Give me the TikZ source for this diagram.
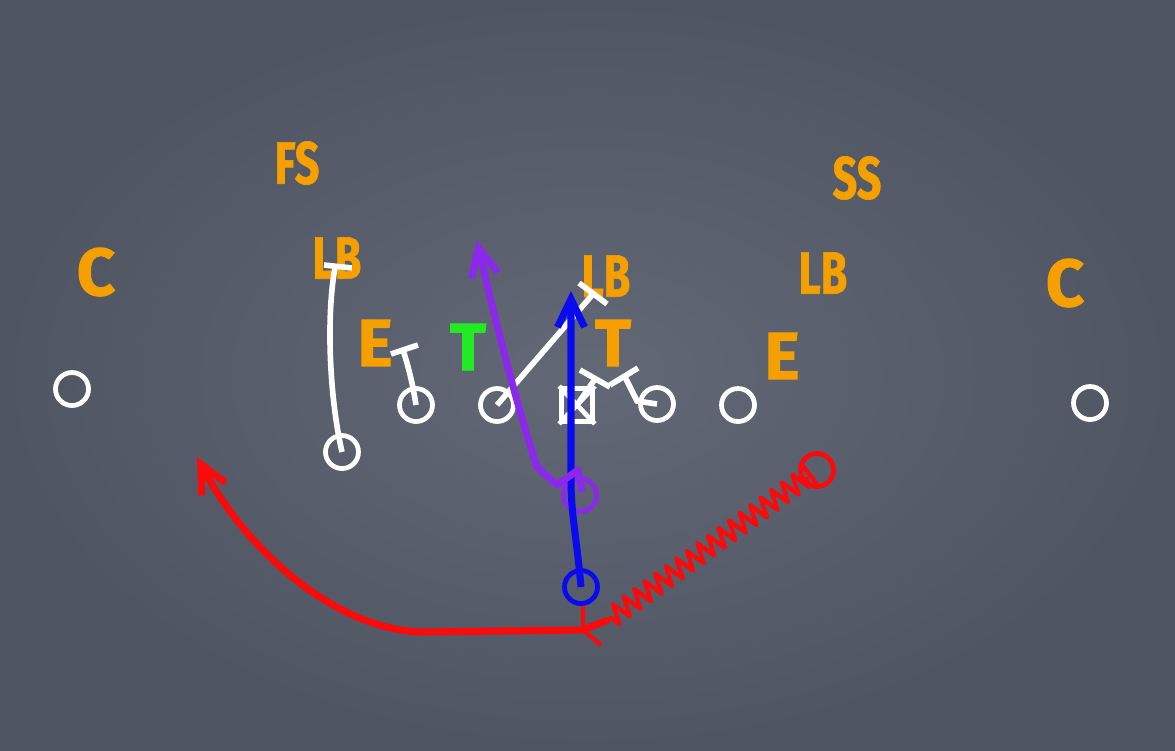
\documentclass[tikz,border=0pt]{standalone}
\usepackage{fontspec}
\setmainfont{Fira Sans}
\newfontfamily\narrowfont{Fira Sans}[FakeStretch=0.72, FakeBold=1]
\newfontfamily\heavyfont{Fira Sans}[FakeBold=1.5]
\usetikzlibrary{arrows.meta,decorations.pathmorphing}
\definecolor{boardin}{RGB}{98,104,118}
\definecolor{boardout}{RGB}{80,85,98}
\definecolor{chalkorange}{RGB}{246,160,0}
\definecolor{chalkgreen}{RGB}{35,235,35}
\definecolor{qbpurple}{RGB}{140,40,235}
\definecolor{rbblue}{RGB}{10,10,240}
\definecolor{motionred}{RGB}{250,10,10}

\begin{document}
\begin{tikzpicture}[x=0.01cm, y=-0.01cm,
  player/.style={circle, draw=white, line width=1.35pt, minimum size=0.33cm, inner sep=0pt},
  defender/.style={text=chalkorange, font=\narrowfont\bfseries\fontsize{17}{17}\selectfont},
  lineman/.style={text=chalkorange, font=\heavyfont\bfseries\fontsize{19}{19}\selectfont},
  block/.style={white, line width=1.6pt},
  route/.style={line width=2pt, -{Straight Barb[length=0.28cm, width=0.27cm]}}]
\shade[inner color=boardin, outer color=boardout] (0,0) rectangle (1175,750);

\node[defender] (fs) at (297,163) {FS};
\node[defender] (ss) at (857,178) {SS};
\node[defender] (lbl) at (337,258) {LB};
\node[defender] (lbm) at (606,276) {LB};
\node[defender] (lbr) at (823,273) {LB};
\node[lineman] (cbl) at (96,272) {C};
\node[lineman] (cbr) at (1065,283) {C};
\node[lineman] (del) at (375,343) {E};
\node[lineman] (der) at (782,356) {E};
\node[lineman, text=chalkgreen] (dtl) at (468,347) {T};
\node[lineman] (dtr) at (613,343) {T};

\node[player] (wrl) at (72,389) {};
\node[player] (wing) at (342,452) {};
\node[player] (tackl) at (416,405) {};
\node[player] (guardl) at (497,405) {};
\node[draw=white, line width=1.35pt, minimum width=0.31cm, minimum height=0.33cm, inner sep=0pt] (ctr) at (577,405) {};
\draw[white, line width=1.35pt] (ctr.north west) -- (ctr.south east) (ctr.north east) -- (ctr.south west);
\node[player] (guardr) at (657,404) {};
\node[player] (tackr) at (738,405) {};
\node[player] (wrr) at (1090,403) {};
\node[player, draw=qbpurple] (qb) at (580,495) {};
\node[player, draw=rbblue] (rb) at (581,587) {};
\node[player, draw=motionred] (mot) at (817,470) {};

\coordinate (wingend) at (335,268);
\coordinate (tacklend) at (403,350);
\coordinate (guardlend) at (593,294);
\coordinate (ctrend) at (595,379);
\coordinate (guardrend) at (625,377);
\coordinate (snap) at (583,630);

\draw[block] (wing.center) .. controls (328,390) and (327,310) .. (wingend);
\draw[block] (wingend) ++(-11,-3) -- ++(28,3);
\draw[block] (tackl.center) .. controls (413,385) and (408,365) .. (tacklend);
\draw[block] (tacklend) ++(-12,4) -- ++(27,-9);
\draw[block] (guardl.center) -- (guardlend);
\draw[block] (guardlend) ++(-14,-11) -- ++(28,21);
\draw[block] (ctr.center) -- (ctrend);
\draw[block] (ctrend) ++(-15,-9) -- ++(30,17);
\draw[block] (guardr.center) -- (637,401) -- (guardrend);
\draw[block] (guardrend) ++(-15,8) -- ++(28,-17);

\draw[route, rbblue] (rb.center) .. controls (577,540) and (571,515) .. (571,480) -- (571,291);
\draw[route, qbpurple, line join=round] (582,492) -- (578,470) -- (557,485) -- (537,467) .. controls (515,400) and (490,300) .. (477,240);
\draw[route, motionred] (snap) -- (420,632) .. controls (330,628) and (243,545) .. (197,457);
\draw[motionred, line width=1.2pt] (583,606) -- (snap) -- (601,645);
\draw[motionred, line width=2pt] (snap) -- (608,620);
\draw[motionred, line width=1.2pt, line join=round, decorate, decoration={zigzag, amplitude=0.1cm, segment length=0.13cm}] (806,477) -- (608,620);
\draw[motionred, line width=1.2pt] (803,466) -- (817,484);
\end{tikzpicture}
\end{document}
